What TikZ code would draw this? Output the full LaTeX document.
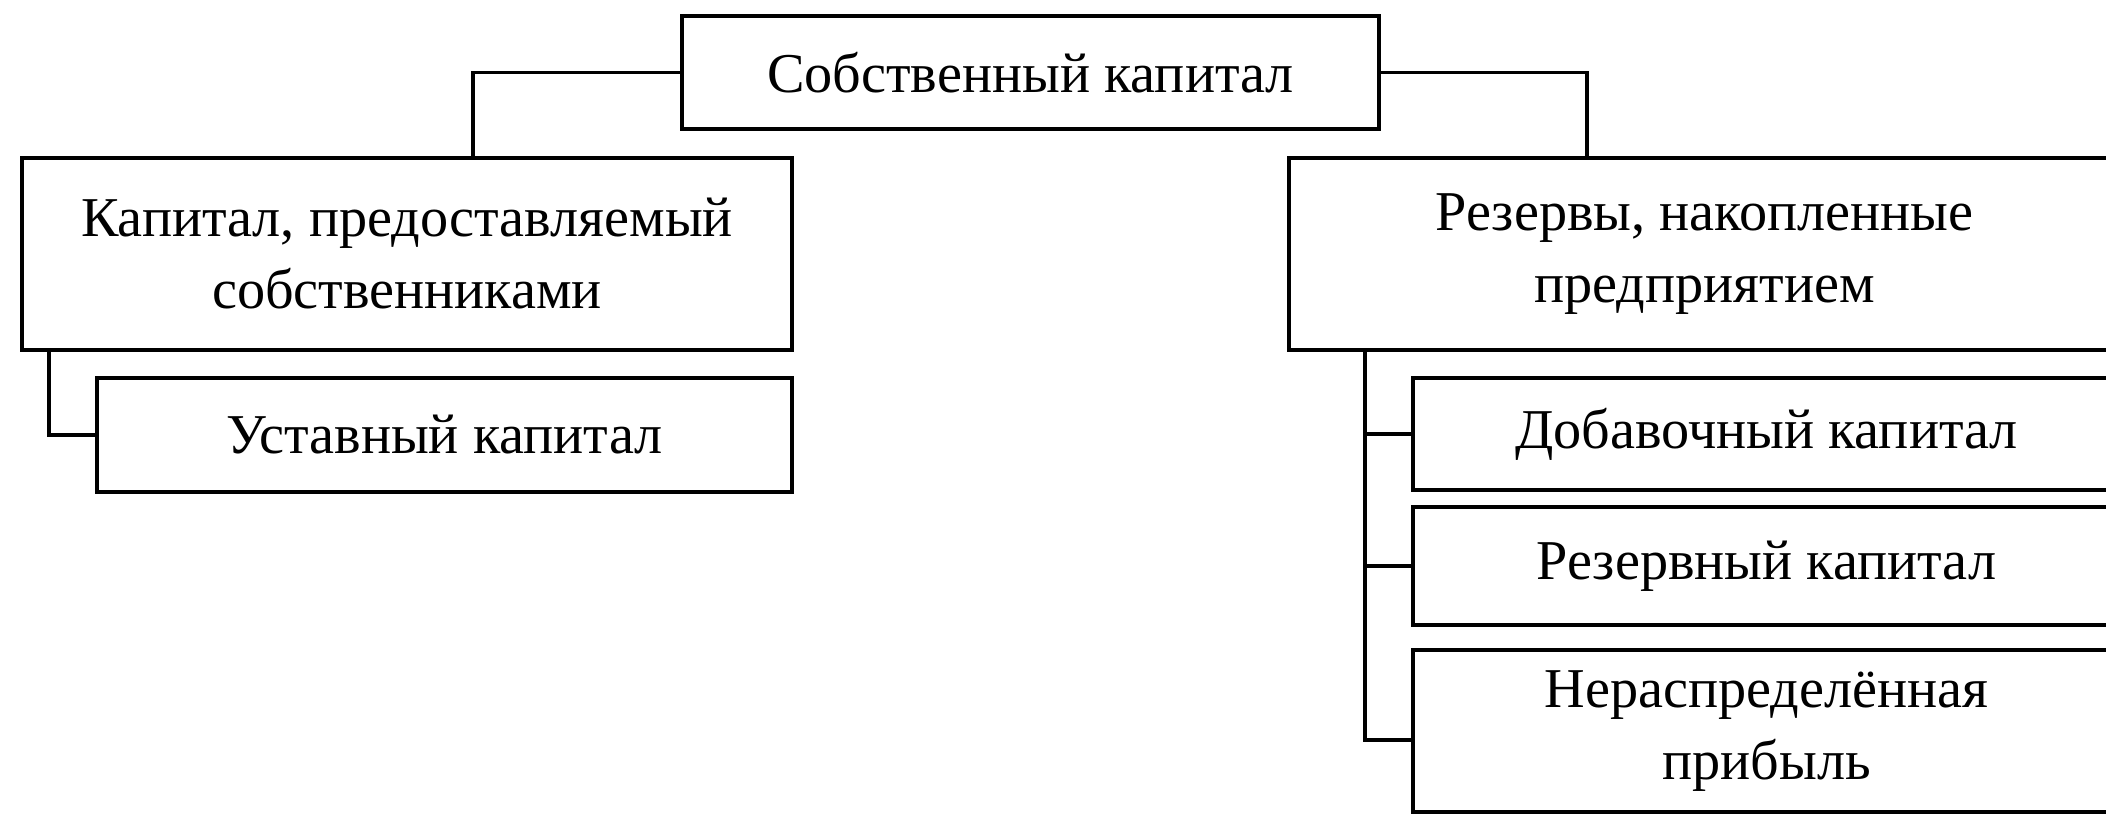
\documentclass[tikz,border=0pt]{standalone}
\usepackage{fontspec}
\setmainfont{Liberation Serif}

\begin{document}
\begin{tikzpicture}[line width=0.9pt,
  box/.style={draw, align=center, inner sep=0pt, font=\fontsize{16}{20.5}\selectfont},
  link/.style={draw, line width=0.9pt}]

\useasboundingbox (0,0) rectangle (21.06,-8.14);

\node (sobst)  at (10.305, -0.725) [box, minimum width=6.97cm, minimum height=1.13cm] {Собственный капитал};

\node (kapsob) at (4.07, -2.54)  [box, minimum width=7.70cm, minimum height=1.92cm] {Капитал, предоставляемый\\собственниками};
\node (ustav)  at (4.445, -4.35) [box, minimum width=6.95cm, minimum height=1.14cm] {Уставный капитал};

\node (rezerv) at (17.045, -2.54) [box, minimum width=8.31cm, minimum height=1.92cm] {Резервы, накопленные\\предприятием};
\node (dobav)  at (17.665, -4.34) [box, minimum width=7.07cm, minimum height=1.12cm] {Добавочный капитал};
\node (rezkap) at (17.665, -5.66) [box, minimum width=7.07cm, minimum height=1.18cm] {Резервный капитал};
\node (nerasp) at (17.665, -7.31) [box, minimum width=7.07cm, minimum height=1.62cm] {Нераспределённая\\прибыль};

\coordinate (ljoin)  at (4.73, -1.58);
\coordinate (rjoin)  at (15.87, -1.58);
\coordinate (ltrunk) at (0.49, -3.50);
\coordinate (rtrunk) at (13.65, -3.50);

\path[link] (sobst.west) -| (ljoin);
\path[link] (sobst.east) -| (rjoin);

\path[link] (kapsob.south -| ltrunk) |- (ustav.west);

\path[link] (rezerv.south -| rtrunk) |- ([yshift=-0.09cm]nerasp.west);
\path[link] (dobav.west -| rtrunk) -- (dobav.west);
\path[link] (rezkap.west -| rtrunk) -- (rezkap.west);

\end{tikzpicture}
\end{document}
